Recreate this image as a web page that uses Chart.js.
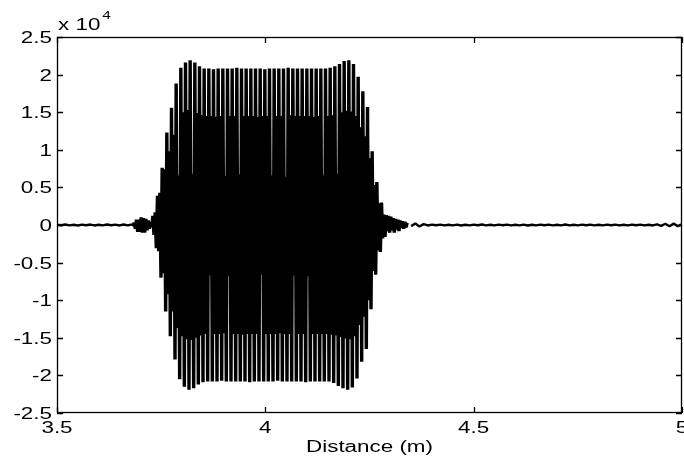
<!DOCTYPE html>
<html>
<head>
<meta charset="utf-8">
<script src="https://cdn.jsdelivr.net/npm/chart.js@4.4.1/dist/chart.umd.min.js"></script>
<style>
html,body{margin:0;padding:0;background:#fff;}
#wrap{width:684px;height:460px;position:relative;}
canvas{display:block;}
</style>
</head>
<body>
<div id="wrap"><canvas id="c" width="684" height="460" style="width:684px;height:460px"></canvas></div>
<script>
// ---- tick labels / texts ----
const xTicks = [3.5, 4, 4.5, 5];
const yTicks = [2.5, 2, 1.5, 1, 0.5, 0, -0.5, -1, -1.5, -2, -2.5];
const xTitle = 'Distance (m)';
const yExponentBase = 'x 10';
const yExponentPower = '4';

// ---- signal (amplitude in units of 10^4) ----
const quietLeftDistance = [3.50,3.51,3.52,3.53,3.54,3.55,3.56,3.57,3.58,3.59,3.60,3.61,3.62,3.63,3.64,3.65,3.66,3.67,3.68];
const quietLeftAmplitude = [0.005,-0.004,0.006,-0.005,0.004,-0.006,0.005,-0.004,0.006,-0.006,0.004,-0.005,0.006,-0.004,0.005,-0.006,0.007,-0.006,0.008];

// burst sampled every burstStep metres from burstStart
const burstStart = 3.6824;
const burstStep = 0.0028;
const burstAmplitude = [
 -0.02,0.03,-0.05,0.07,-0.09,0.07,-0.09,0.10,-0.10,0.09,-0.10,0.08,-0.07,0.06,-0.05,0.04,-0.03,
 0.12,-0.13,0.17,-0.31, 0.39,-0.35,0.43,-0.70, 0.76,-0.64,0.74,-1.15, 1.23,-0.92,0.98,-1.48,
 1.56,-1.15,1.20,-1.79, 1.88,-1.37,0.66,-2.05, 2.09,-1.48,1.50,-2.15, 2.16,-1.52,1.53,-2.19,
 2.19,-1.53,0.68,-2.17, 2.16,-1.50,1.49,-2.12, 2.11,-1.47,1.46,-2.09,
 2.08,-1.45,1.45,-2.08, 2.08,-0.67,1.45,-2.08, 2.07,-1.45,1.44,-2.08, 2.08,-1.45,1.45,-2.07,
 2.08,-1.44,0.65,-2.08, 2.08,-0.68,1.45,-2.08, 2.08,-1.45,1.45,-2.08, 2.09,-1.45,0.67,-2.08,
 2.08,-1.46,1.45,-2.08, 2.08,-1.45,1.45,-2.09, 2.08,-1.45,1.45,-2.08, 2.08,-1.45,1.44,-2.08,
 2.08,-0.66,1.45,-2.08, 2.07,-1.45,1.45,-2.08, 2.08,-1.45,0.66,-2.08, 2.08,-1.45,1.45,-2.07,
 2.08,-1.44,1.45,-2.08, 2.08,-1.45,0.64,-2.08, 2.09,-1.45,1.46,-2.08, 2.08,-0.67,1.45,-2.08,
 2.08,-1.45,1.45,-2.08, 2.08,-1.45,1.45,-2.09, 2.08,-0.68,1.45,-2.08, 2.08,-1.45,1.44,-2.08,
 2.08,-1.45,1.45,-2.08, 2.08,-1.45,0.66,-2.08, 2.08,-1.45,1.45,-2.08, 2.09,-1.46,1.46,-2.10,
 2.11,-1.47,0.68,-2.14, 2.14,-1.49,1.50,-2.17, 2.18,-1.51,1.52,-2.19, 2.19,-1.52,1.51,-2.16,
 2.14,-1.48,1.45,-2.04, 1.97,-1.33,1.30,-1.82, 1.78,-1.22,1.18,-1.65, 1.57,-1.00,0.89,-1.12,
 0.98,-0.61,0.53,-0.66, 0.57,-0.34,0.29,-0.36, 0.30,-0.18,0.14,-0.16, 0.13,-0.08,0.12,-0.10,
 0.11,-0.07,0.09,-0.10, 0.08,-0.06,0.07,-0.08, 0.06,-0.04,0.05,-0.05, 0.04,-0.03,0.03
];

const quietRightDistance = [4.35,4.36,4.37,4.38,4.39,4.40,4.41,4.42,4.43,4.44,4.45,4.46,4.47,4.48,4.49,4.50,4.51,4.52,4.53,4.54,4.55,4.56,4.57,4.58,4.59,4.60,4.61,4.62,4.63,4.64,4.65,4.66,4.67,4.68,4.69,4.70,4.71,4.72,4.73,4.74,4.75,4.76,4.77,4.78,4.79,4.80,4.81,4.82,4.83,4.84,4.85,4.86,4.87,4.88,4.89,4.90,4.91,4.92,4.93,4.94,4.95,4.96,4.97,4.98,4.99,5.00];
const quietRightAmplitude = [-0.015,0.02,-0.02,0.012,-0.006,0.005,-0.004,0.005,-0.005,0.004,-0.005,0.005,-0.006,0.004,-0.005,0.005,-0.004,0.006,-0.005,0.004,-0.005,0.005,-0.004,0.005,-0.005,0.004,-0.005,0.005,-0.006,0.004,-0.005,0.005,-0.004,0.005,-0.005,0.004,-0.005,0.006,-0.005,0.004,-0.005,0.005,-0.004,0.005,-0.005,0.004,-0.005,0.005,-0.004,0.005,-0.005,0.004,-0.005,0.005,-0.004,0.005,-0.005,0.004,-0.006,0.008,-0.012,0.016,-0.016,0.018,-0.016,0.012];

// ---- build library data ----
const quietLeftData = quietLeftDistance.map((d, i) => ({x: d, y: quietLeftAmplitude[i]}));
const burstData = burstAmplitude.map((a, i) => ({x: burstStart + i * burstStep, y: a}));
const quietRightData = quietRightDistance.map((d, i) => ({x: d, y: quietRightAmplitude[i]}));

const FONT = "'Liberation Sans', Arial, Helvetica, sans-serif";
const STRETCH = 1.4;

function stretchedText(ctx, text, x, y, align, size) {
  ctx.save();
  ctx.font = size + 'px ' + FONT;
  ctx.textAlign = align;
  ctx.textBaseline = 'alphabetic';
  ctx.translate(x, y);
  ctx.scale(STRETCH, 1);
  ctx.fillText(text, 0, 0);
  ctx.restore();
}

const matlabAxes = {
  id: 'matlabAxes',
  afterDraw(chart) {
    const ctx = chart.ctx;
    const a = chart.chartArea;
    const xs = chart.scales.x, ys = chart.scales.y;
    ctx.save();
    ctx.strokeStyle = '#000';
    ctx.fillStyle = '#000';
    ctx.lineWidth = 1.3;
    ctx.strokeRect(a.left + 0.5, a.top + 0.5, a.right - a.left - 1, a.bottom - a.top - 1);
    const tl = 6;
    ctx.beginPath();
    xTicks.forEach(v => {
      const px = Math.round(xs.getPixelForValue(v)) + 0.5;
      ctx.moveTo(px, a.bottom); ctx.lineTo(px, a.bottom - tl);
      ctx.moveTo(px, a.top); ctx.lineTo(px, a.top + tl);
    });
    yTicks.forEach(v => {
      const py = Math.round(ys.getPixelForValue(v)) + 0.5;
      ctx.moveTo(a.left, py); ctx.lineTo(a.left + tl, py);
      ctx.moveTo(a.right, py); ctx.lineTo(a.right - tl, py);
    });
    ctx.stroke();
    xTicks.forEach(v => {
      stretchedText(ctx, String(v), xs.getPixelForValue(v), a.bottom + 20, 'center', 16);
    });
    yTicks.forEach(v => {
      stretchedText(ctx, String(v), a.left - 5, ys.getPixelForValue(v) + 6, 'right', 16);
    });
    stretchedText(ctx, xTitle, (a.left + a.right) / 2, a.bottom + 39, 'center', 16);
    stretchedText(ctx, yExponentBase, a.left + 1, a.top - 7, 'left', 16);
    ctx.font = '16px ' + FONT;
    const w = ctx.measureText(yExponentBase).width * STRETCH;
    stretchedText(ctx, yExponentPower, a.left + 3 + w, a.top - 18, 'left', 11);
    ctx.restore();
  }
};

// a solid "dash" pattern makes the library draw every segment individually
const solid = [10000, 0];

new Chart(document.getElementById('c'), {
  type: 'line',
  data: {
    datasets: [
      {data: quietLeftData, borderColor: '#000', borderWidth: 2.4, pointRadius: 0, tension: 0, borderJoinStyle: 'bevel'},
      {data: burstData, borderColor: '#000', borderWidth: 3.4, pointRadius: 0, tension: 0, borderJoinStyle: 'bevel', borderDash: solid},
      {data: quietRightData, borderColor: '#000', borderWidth: 2.4, pointRadius: 0, tension: 0, borderJoinStyle: 'bevel'}
    ]
  },
  options: {
    responsive: false,
    maintainAspectRatio: false,
    devicePixelRatio: 1,
    animation: false,
    parsing: false,
    normalized: true,
    events: [],
    layout: {padding: {left: 0, top: 37, right: 2, bottom: 0}},
    plugins: {legend: {display: false}, tooltip: {enabled: false}, title: {display: false}},
    scales: {
      x: {
        type: 'linear', min: 3.5, max: 5,
        ticks: {display: false, stepSize: 0.5},
        grid: {display: false}, border: {display: false},
        afterFit: s => { s.height = 47; }
      },
      y: {
        type: 'linear', min: -2.5, max: 2.5,
        ticks: {display: false, stepSize: 0.5},
        grid: {display: false}, border: {display: false},
        afterFit: s => { s.width = 57; }
      }
    }
  },
  plugins: [matlabAxes]
});
</script>
</body>
</html>
